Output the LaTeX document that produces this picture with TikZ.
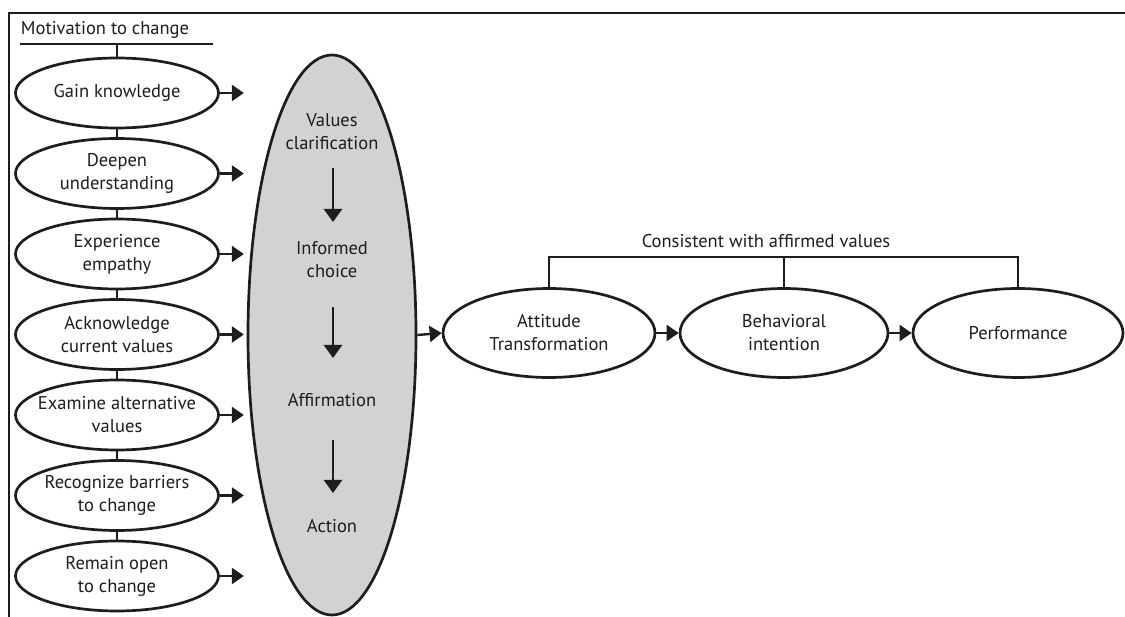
\documentclass[tikz,border=0pt]{standalone}
\usepackage{fontspec}
\setmainfont{PT Sans}
\usetikzlibrary{shapes.geometric,arrows.meta,calc}
\definecolor{ink}{RGB}{30,28,28}
\definecolor{shade}{RGB}{210,210,210}
\begin{document}
\begin{tikzpicture}[x=1pt,y=-1pt,
  txt/.style={font=\fontsize{18.5}{23}\selectfont, text=ink, align=center},
  sm/.style={ellipse, draw=ink, line width=2.7pt, fill=white, minimum width=203pt, minimum height=70pt, inner xsep=-14pt, inner ysep=-8pt, txt},
  rt/.style={ellipse, draw=ink, line width=2.7pt, fill=white, minimum width=210pt, minimum height=89pt, inner xsep=-14pt, inner ysep=-8pt, txt},
  big/.style={ellipse, draw=ink, line width=2.7pt, fill=shade, minimum width=168pt, minimum height=560pt, inner sep=0pt},
  conn/.style={draw=ink, line width=2.4pt},
  arr/.style={conn, -{Triangle[length=12pt,width=16pt]}},
  varr/.style={conn, -{Triangle[length=13pt,width=18pt]}},
  frame/.style={draw=ink, line width=1.8pt}
]
\useasboundingbox (0,0) rectangle (1125,617);
% frame
\coordinate (f0) at (9,617);
\coordinate (f1) at (9,13);
\coordinate (f2) at (1125,13);
\draw[frame] (f0) -- (f1) -- (f2);

% header
\node[txt, anchor=center] (mot) at (105,30) {Motivation to change};
\coordinate (ul) at (20,44);
\coordinate (ur) at (213,44);
\draw[conn] (ul) -- (ur);
\coordinate (um) at (117,44);

% left ellipses
\node[sm] (e1) at (117,93) {Gain knowledge};
\node[sm] (e2) at (117,173.5) {Deepen\\understanding};
\node[sm] (e3) at (117,254) {Experience\\empathy};
\node[sm] (e4) at (117,334.5) {Acknowledge\\current values};
\node[sm] (e5) at (117,415) {Examine alternative\\values};
\node[sm] (e6) at (117,495.5) {Recognize barriers\\to change};
\node[sm] (e7) at (117,576) {Remain open\\to change};

\draw[conn] (um) -- (e1.north);
\foreach \a/\b in {e1/e2,e2/e3,e3/e4,e4/e5,e5/e6,e6/e7}
  \draw[conn] (\a.south) -- (\b.north);

\foreach \e in {e1,e2,e3,e4,e5,e6,e7}{
  \coordinate (\e t) at ($(\e.east)+(24,0)$);
  \draw[arr] (\e.east) -- (\e t);
}

% big ellipse
\node[big] (bg) at (332,335) {};
\node[txt] (v1) at (332,132) {Values\\clarification};
\node[txt] (v2) at (332,260) {Informed\\choice};
\node[txt] (v3) at (332,400) {Affirmation};
\node[txt] (v4) at (332,526) {Action};
\coordinate (s1) at (333,168);
\coordinate (t1) at (333,222);
\coordinate (s2) at (333,307);
\coordinate (t2) at (333,358);
\coordinate (s3) at (333,440);
\coordinate (t3) at (333,493);
\draw[varr] (s1) -- (t1);
\draw[varr] (s2) -- (t2);
\draw[varr] (s3) -- (t3);

% right ellipses
\node[rt, minimum width=212pt] (att) at (549,333) {Attitude\\Transformation};
\node[rt, minimum width=208pt] (beh) at (784,333) {Behavioral\\intention};
\node[rt, minimum width=210pt] (perf) at (1018,333) {Performance};

\draw[arr] (bg.east) -- (att.west);
\draw[arr] (att.east) -- (beh.west);
\draw[arr] (beh.east) -- (perf.west);

% bracket
\coordinate (bl) at (549,257);
\coordinate (br) at (1018,257);
\coordinate (bm) at (784,257);
\draw[conn] (att.north) -- (bl) -- (br) -- (perf.north);
\draw[conn] (bm) -- (beh.north);
\node[txt] (cons) at (766,241) {Consistent with affirmed values};
\end{tikzpicture}
\end{document}
